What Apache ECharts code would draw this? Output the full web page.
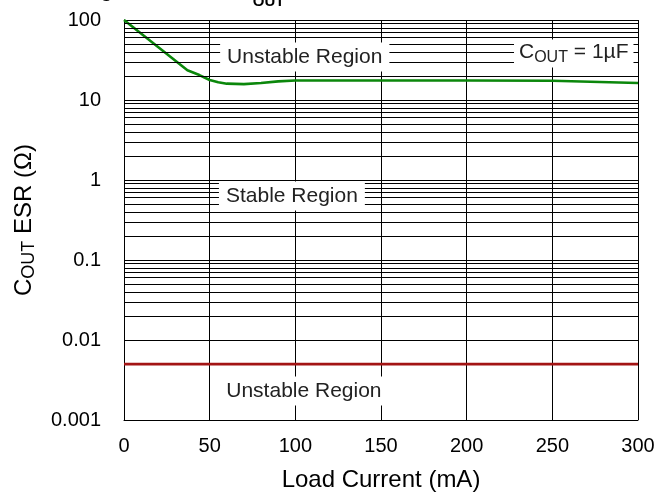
<!DOCTYPE html>
<html><head><meta charset="utf-8">
<script src="https://cdn.jsdelivr.net/npm/echarts@6/dist/echarts.min.js"></script>
<style>html,body{margin:0;padding:0;background:#fff}#c{width:658px;height:495px}</style>
</head><body><div id="c"></div>
<script>
// ---- data ----
const loadCurrent = [0, 37, 44, 50, 55, 60, 70, 80, 90, 100, 150, 200, 250, 300];
const esrLimit    = [100, 23.5, 20.5, 17.8, 16.7, 16.0, 15.8, 16.3, 17.1, 17.5, 17.5, 17.5, 17.4, 16.3];
const lowerLoad = [0, 300];
const lowerEsr  = [0.005, 0.005];
const xTicks = [0, 50, 100, 150, 200, 250, 300];
const yDecades = [0.001, 0.01, 0.1, 1, 10, 100];
const minorMultipliers = [2, 3, 4, 5, 6, 7, 8, 9];
const regionTexts = ['Unstable Region', 'Stable Region', 'Unstable Region'];
const regionAnchors = [[105.5, 34.5], [98, 0.63], [105, 0.0023]];
const capText = ['C', 'OUT', ' = 1\u00b5F'];
const capAnchor = [262.5, 38];

// ---- build ----
const FONT = "'Liberation Sans', Arial, Helvetica, sans-serif";
const minorValues = [];
yDecades.slice(0, -1).forEach(d => minorMultipliers.forEach(m => minorValues.push(+(d * m).toPrecision(3))));

function subRich(big, small, lh, extra) {
  return {
    c: Object.assign({ fontSize: big, lineHeight: lh, verticalAlign: 'top', fontFamily: FONT, color: '#000' }, extra || {}),
    s: Object.assign({ fontSize: small, lineHeight: small, verticalAlign: 'bottom', fontFamily: FONT, color: '#000' }, extra || {})
  };
}

const chart = echarts.init(document.getElementById('c'), null, { renderer: 'canvas' });
chart.setOption({
  animation: false,
  backgroundColor: '#fff',
  title: {
    text: '{c|Region of Stable C}{s|OUT}{c| ESR vs Load Current}',
    left: 75, top: -19, padding: 0,
    textStyle: { rich: subRich(20, 15, 28, { fontWeight: 'bold' }) }
  },
  grid: { left: 124, right: 20, top: 20, bottom: 75, containLabel: false, outerBoundsMode: 'none' },
  xAxis: {
    type: 'value', min: xTicks[0], max: xTicks[xTicks.length - 1], interval: xTicks[1] - xTicks[0],
    name: 'Load Current (mA)', nameLocation: 'middle', nameGap: 48,
    nameTextStyle: { fontSize: 24, fontFamily: FONT, color: '#000' },
    axisLine: { show: true, lineStyle: { color: '#000', width: 1 } },
    axisTick: { show: false },
    axisLabel: { fontSize: 20, fontFamily: FONT, color: '#000', margin: 16 },
    splitLine: { show: true, lineStyle: { color: '#000', width: 1 } }
  },
  yAxis: {
    type: 'log', logBase: 10, min: yDecades[0], max: yDecades[yDecades.length - 1],
    name: '{c|C}{s|OUT}{c| ESR (\u03a9)}', nameLocation: 'middle', nameGap: 86, nameRotate: 90,
    nameTextStyle: { rich: subRich(24, 18, 26) },
    axisLine: { show: true, lineStyle: { color: '#000', width: 1 } },
    axisTick: { show: false },
    axisLabel: { fontSize: 20, fontFamily: FONT, color: '#000', margin: 23 },
    splitLine: { show: true, lineStyle: { color: '#000', width: 1 } }
  },
  series: [
    {
      name: 'minor grid', type: 'line', data: [], z: 1, silent: true,
      markLine: {
        silent: true, symbol: ['none', 'none'], animation: false,
        label: { show: false },
        lineStyle: { color: '#000', width: 1, type: 'solid' },
        emphasis: { disabled: true },
        data: minorValues.map(v => ({ yAxis: v }))
      }
    },
    {
      name: 'upper limit', type: 'line', z: 4, showSymbol: false, symbol: 'none',
      data: loadCurrent.map((x, i) => [x, esrLimit[i]]),
      lineStyle: { color: '#0b870b', width: 2.6 }
    },
    {
      name: 'lower limit', type: 'line', z: 4, showSymbol: false, symbol: 'none',
      data: lowerLoad.map((x, i) => [x, lowerEsr[i]]),
      lineStyle: { color: '#a31414', width: 2.6 }
    },
    {
      name: 'labels', type: 'line', data: [], z: 10, silent: true,
      markPoint: {
        silent: true, symbol: 'rect', symbolSize: 1, itemStyle: { color: 'rgba(0,0,0,0)' },
        animation: false,
        data: regionTexts.map((t, i) => ({
          coord: regionAnchors[i],
          label: {
            show: true, position: 'inside', formatter: t, fontSize: 21, fontFamily: FONT, color: '#222',
            backgroundColor: '#fff', padding: [4, 7]
          }
        })).concat([{
          coord: capAnchor,
          label: {
            show: true, position: 'inside',
            formatter: '{c|' + capText[0] + '}{s|' + capText[1] + '}{c|' + capText[2] + '}',
            backgroundColor: '#fff', padding: [2, 5],
            rich: subRich(21, 16, 24, { color: '#222' })
          }
        }])
      }
    }
  ]
});
</script></body></html>
